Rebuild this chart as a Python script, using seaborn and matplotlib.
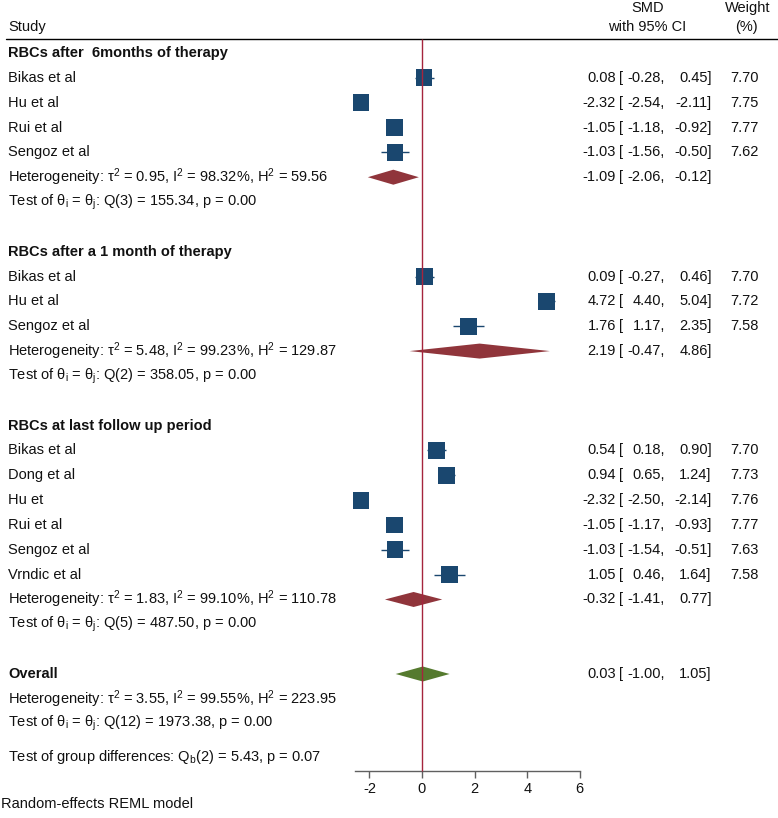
import numpy as np
import pandas as pd
import matplotlib
matplotlib.use("Agg")
import matplotlib.pyplot as plt
import seaborn as sns

# ---- data ----
group_titles = ["RBCs after  6months of therapy",
                "RBCs after a 1 month of therapy",
                "RBCs at last follow up period"]
group_studies = [["Bikas et al", "Hu et al", "Rui et al", "Sengoz et al"],
                 ["Bikas et al", "Hu et al", "Sengoz et al"],
                 ["Bikas et al", "Dong et al", "Hu et", "Rui et al", "Sengoz et al", "Vrndic et al"]]
group_smd = [[0.08, -2.32, -1.05, -1.03],
             [0.09, 4.72, 1.76],
             [0.54, 0.94, -2.32, -1.05, -1.03, 1.05]]
group_lo = [[-0.28, -2.54, -1.18, -1.56],
            [-0.27, 4.40, 1.17],
            [0.18, 0.65, -2.50, -1.17, -1.54, 0.46]]
group_hi = [[0.45, -2.11, -0.92, -0.50],
            [0.46, 5.04, 2.35],
            [0.90, 1.24, -2.14, -0.93, -0.51, 1.64]]
group_weight = [[7.70, 7.75, 7.77, 7.62],
                [7.70, 7.72, 7.58],
                [7.70, 7.73, 7.76, 7.77, 7.63, 7.58]]

sub_smd = [-1.09, 2.19, -0.32]
sub_lo = [-2.06, -0.47, -1.41]
sub_hi = [-0.12, 4.86, 0.77]
sub_tau2 = [0.95, 5.48, 1.83]
sub_i2 = [98.32, 99.23, 99.10]
sub_h2 = [59.56, 129.87, 110.78]
sub_qdf = [3, 2, 5]
sub_q = [155.34, 358.05, 487.50]
sub_p = [0.00, 0.00, 0.00]

overall_smd, overall_lo, overall_hi = 0.03, -1.00, 1.05
overall_tau2, overall_i2, overall_h2 = 3.55, 99.55, 223.95
overall_qdf, overall_q, overall_p = 12, 1973.38, 0.00
diff_df, diff_q, diff_p = 2, 5.43, 0.07

x_ticks = [-2, 0, 2, 4, 6]

# ---- style ----
sns.set_theme(style="white")
plt.rcParams["font.family"] = ["Liberation Sans", "DejaVu Sans"]
plt.rcParams["mathtext.fontset"] = "custom"
plt.rcParams["mathtext.rm"] = "Liberation Sans"
plt.rcParams["mathtext.it"] = "Liberation Sans"
plt.rcParams["mathtext.bf"] = "Liberation Sans:bold"

NAVY = "#1a476f"
MAROON = "#90353b"
GREEN = "#557a2e"
REDLINE = "#a5243d"
FS = 10.5

W, H = 778, 818
ZERO_PX, PPU = 422, 26.3
ROW0_PX, PITCH = 53, 24.84

fig = plt.figure(figsize=(W / 100, H / 100), dpi=100)
ax = fig.add_axes([0, 0, 1, 1])
ax.set_xlim(-ZERO_PX / PPU, (W - ZERO_PX) / PPU)
ax.set_ylim((H - ROW0_PX) / PITCH, -ROW0_PX / PITCH)
tr = ax.get_yaxis_transform()


def txt(xpx, row, s, ha="left", **kw):
    ax.text(xpx / W, row, s, transform=tr, ha=ha, va="center",
            fontsize=FS, color="#111111", **kw)


def ci_cols(row, est, lo, hi, w=None):
    txt(616, row, f"{est:.2f}", ha="right")
    txt(619, row, "[")
    txt(665, row, f"{lo:.2f},", ha="right")
    txt(711.5, row, f"{hi:.2f}]", ha="right")
    if w is not None:
        txt(759, row, f"{w:.2f}", ha="right")


def het(tau2, i2, h2):
    return (f"Heterogeneity: τ$^{{2}}$ = {tau2:.2f}, I$^{{2}}$ = {i2:.2f}%, "
            f"H$^{{2}}$ = {h2:.2f}")


def qtest(df, q, p):
    return (f"Test of θ$_{{\\mathrm{{i}}}}$ = θ$_{{\\mathrm{{j}}}}$: "
            f"Q({df}) = {q:.2f}, p = {p:.2f}")


DH = 7.5 / PITCH

# header
txt(8, -1.05, "Study")
txt(647.5, -1.81, "SMD", ha="center")
txt(647.5, -1.05, "with 95% CI", ha="center")
txt(747.5, -1.81, "Weight", ha="center")
txt(746, -1.05, "(%)", ha="center")
ax.axhline(-0.56, xmin=6 / W, xmax=1, color="black", lw=1)

records = []
r = 0
for g, title in enumerate(group_titles):
    txt(8, r, title, fontweight="bold")
    r += 1
    for name, e, lo, hi, w in zip(group_studies[g], group_smd[g], group_lo[g],
                                  group_hi[g], group_weight[g]):
        records.append({"study": name, "smd": e, "lo": lo, "hi": hi,
                        "weight": w, "row": r})
        txt(8, r, name)
        ci_cols(r, e, lo, hi, w)
        r += 1
    txt(8, r, het(sub_tau2[g], sub_i2[g], sub_h2[g]))
    ci_cols(r, sub_smd[g], sub_lo[g], sub_hi[g])
    ax.fill([sub_lo[g], sub_smd[g], sub_hi[g], sub_smd[g]],
            [r, r - DH, r, r + DH], color=MAROON, lw=0, zorder=3)
    txt(8, r + 1, qtest(sub_qdf[g], sub_q[g], sub_p[g]))
    r += 3

# overall
txt(8, r, "Overall", fontweight="bold")
ci_cols(r, overall_smd, overall_lo, overall_hi)
ax.fill([overall_lo, overall_smd, overall_hi, overall_smd],
        [r, r - DH, r, r + DH], color=GREEN, lw=0, zorder=3)
txt(8, r + 1, het(overall_tau2, overall_i2, overall_h2))
txt(8, r + 2, qtest(overall_qdf, overall_q, overall_p))
txt(8, r + 3.34, "Test of group differences: Q$_{\\mathrm{b}}$"
    f"({diff_df}) = {diff_q:.2f}, p = {diff_p:.2f}")
txt(1, r + 5.23, "Random-effects REML model")
axis_row = r + 3.9

studies = pd.DataFrame(records)
ax.hlines(studies["row"], studies["lo"], studies["hi"], color=NAVY, lw=1, zorder=3)
sns.scatterplot(x=studies["smd"], y=studies["row"], marker="s",
                s=studies["weight"] / 7.7 * 145, color=NAVY, edgecolor="none",
                legend=False, ax=ax, zorder=4)

# no-effect line
ax.vlines(0, -0.56, axis_row, color=REDLINE, lw=1, zorder=5)

# x axis
for side in ["top", "left", "right"]:
    ax.spines[side].set_visible(False)
ax.spines["bottom"].set_visible(True)
ax.spines["bottom"].set_position(("data", axis_row))
ax.spines["bottom"].set_bounds(min(min(v) for v in group_lo), max(x_ticks))
ax.spines["bottom"].set_color("#606060")
ax.spines["bottom"].set_linewidth(1)
ax.set_xticks(x_ticks)
ax.set_xticklabels([str(t) for t in x_ticks])
ax.set_yticks([])
ax.set_xlabel("")
ax.set_ylabel("")
ax.tick_params(axis="x", bottom=True, direction="out", length=5, width=1,
               color="#606060", labelsize=FS, labelcolor="#111111", pad=3)

fig.savefig("out.png", dpi=100)
